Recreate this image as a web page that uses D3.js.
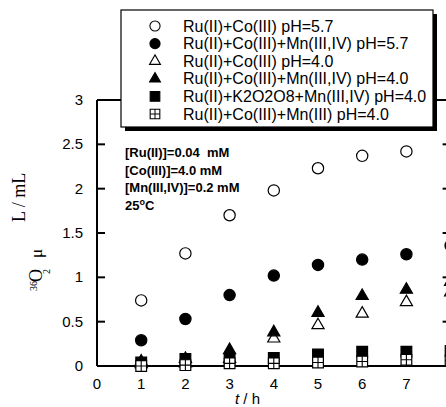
<!DOCTYPE html>
<html>
<head>
<meta charset="utf-8">
<script src="https://cdn.jsdelivr.net/npm/d3@7"></script>
<style>
  body { margin: 0; background: #fff; }
  svg { display: block; }
  text { white-space: pre; }
</style>
</head>
<body>
<div id="chart"></div>
<script>
(function () {
  'use strict';

  var hours = [1, 2, 3, 4, 5, 6, 7, 8];
  var coPh57 = [0.74, 1.27, 1.70, 1.98, 2.23, 2.37, 2.42];
  var coMnPh57 = [0.29, 0.53, 0.80, 1.02, 1.14, 1.20, 1.26, 1.36];
  var coPh40 = [0.02, 0.03, 0.08, 0.31, 0.46, 0.59, 0.72, 0.83];
  var coMnPh40 = [0.05, 0.08, 0.18, 0.38, 0.60, 0.79, 0.86, 0.95];
  var persulfMn = [0.04, 0.08, 0.08, 0.09, 0.13, 0.16, 0.16, 0.17];
  var coMn3 = [0.00, 0.01, 0.03, 0.03, 0.04, 0.05, 0.07, 0.06];

  var xTicks = [0, 1, 2, 3, 4, 5, 6, 7];
  var yTicks = [0, 0.5, 1, 1.5, 2, 2.5, 3];
  var notes = ['[Ru(II)]=0.04  mM', '[Co(III)]=4.0 mM', '[Mn(III,IV)]=0.2 mM', '25'];

  var series = [
    { label: 'Ru(II)+Co(III) pH=5.7', values: coPh57, shape: 'circle', fill: '#fff' },
    { label: 'Ru(II)+Co(III)+Mn(III,IV) pH=5.7', values: coMnPh57, shape: 'circle', fill: '#000' },
    { label: 'Ru(II)+Co(III) pH=4.0', values: coPh40, shape: 'triangle', fill: '#fff' },
    { label: 'Ru(II)+Co(III)+Mn(III,IV) pH=4.0', values: coMnPh40, shape: 'triangle', fill: '#000' },
    { label: 'Ru(II)+K2O2O8+Mn(III,IV) pH=4.0', values: persulfMn, shape: 'square', fill: '#000' },
    { label: 'Ru(II)+Co(III)+Mn(III) pH=4.0', values: coMn3, shape: 'crossed', fill: '#fff' }
  ];

  var W = 446, H = 407;
  var sans = '"Liberation Sans", Arial, sans-serif';
  var serif = '"Liberation Serif", "Times New Roman", serif';

  var x = d3.scaleLinear().domain([0, 8]).range([97, 450.6]);
  var y = d3.scaleLinear().domain([0, 3]).range([366, 100]);

  var svg = d3.select('#chart').append('svg')
      .attr('width', W)
      .attr('height', H);

  function symbolPath(shape) {
    if (shape === 'circle') return d3.symbol(d3.symbolCircle, 100)();
    if (shape === 'triangle') return d3.symbol(d3.symbolTriangle, 64)();
    return d3.symbol(d3.symbolSquare, 115)();
  }

  function drawMarker(g, shape, fill) {
    g.append('path')
      .attr('d', symbolPath(shape))
      .attr('fill', fill)
      .attr('stroke', '#000')
      .attr('stroke-width', 1.2);
    if (shape === 'crossed') {
      g.append('path')
        .attr('d', 'M-5.4,0H5.4M0,-5.4V5.4')
        .attr('stroke', '#000')
        .attr('stroke-width', 1.1);
    }
  }

  // frame
  var frame = svg.append('g').attr('stroke', '#000').attr('stroke-width', 2).attr('fill', 'none');
  frame.append('line').attr('x1', x(0)).attr('x2', x(8)).attr('y1', y(0)).attr('y2', y(0));
  frame.append('line').attr('x1', x(0)).attr('x2', x(8)).attr('y1', y(3)).attr('y2', y(3));
  frame.append('line').attr('x1', x(0)).attr('x2', x(0)).attr('y1', y(0)).attr('y2', y(3));
  frame.append('line').attr('x1', x(8)).attr('x2', x(8)).attr('y1', y(0)).attr('y2', y(3));

  // y ticks inward on both sides
  frame.selectAll('.yt').data(yTicks.slice(1, -1)).enter()
    .append('line')
    .attr('x1', x(0)).attr('x2', x(0) + 8)
    .attr('y1', function (d) { return y(d); })
    .attr('y2', function (d) { return y(d); });
  frame.selectAll('.yt2').data(yTicks.slice(1, -1)).enter()
    .append('line')
    .attr('x1', x(8)).attr('x2', x(8) - 8)
    .attr('y1', function (d) { return y(d); })
    .attr('y2', function (d) { return y(d); });

  svg.append('g').selectAll('text').data(yTicks).enter()
    .append('text')
    .attr('x', 83)
    .attr('y', function (d) { return y(d) + 5; })
    .attr('text-anchor', 'end')
    .attr('font-family', sans)
    .attr('font-size', 15)
    .text(function (d) { return d; });

  svg.append('g').selectAll('text').data(xTicks).enter()
    .append('text')
    .attr('x', function (d) { return x(d); })
    .attr('y', 389)
    .attr('text-anchor', 'middle')
    .attr('font-family', sans)
    .attr('font-size', 15)
    .text(function (d) { return d; });

  // axis titles
  var xt = svg.append('text')
      .attr('x', 235)
      .attr('y', 404)
      .attr('font-family', sans)
      .attr('font-size', 15);
  xt.append('tspan').attr('font-style', 'italic').text('t');
  xt.append('tspan').text(' / h');

  function rotText(px, py, size, str) {
    svg.append('text')
      .attr('transform', 'translate(' + px + ',' + py + ') rotate(-90)')
      .attr('font-family', serif)
      .attr('font-size', size)
      .text(str);
  }
  rotText(25, 222, 18, 'L / mL');
  rotText(42, 258, 17, 'μ');
  rotText(42, 282, 18, 'O');
  rotText(50, 274, 10, '2');
  rotText(37, 291, 10, '36');

  // data points
  series.forEach(function (s) {
    var g = svg.append('g');
    s.values.forEach(function (v, i) {
      var m = g.append('g')
        .attr('transform', 'translate(' + x(hours[i]) + ',' + y(v) + ')');
      drawMarker(m, s.shape, s.fill);
    });
  });

  // notes
  var nt = svg.append('g')
      .attr('font-family', sans)
      .attr('font-size', 13)
      .attr('font-weight', 'bold');
  notes.forEach(function (n, i) {
    var t = nt.append('text').attr('x', 125).attr('y', 157 + i * 17.7);
    if (i === 3) {
      t.append('tspan').text(n);
      t.append('tspan').attr('font-size', 9).attr('dy', -5).text('o');
      t.append('tspan').attr('dy', 5).text('C');
    } else {
      t.text(n);
    }
  });

  // legend
  var lg = svg.append('g');
  lg.append('rect').attr('x', 125).attr('y', 14).attr('width', 312).attr('height', 117).attr('fill', '#000');
  lg.append('rect').attr('x', 121).attr('y', 10).attr('width', 312).attr('height', 117)
    .attr('fill', '#fff').attr('stroke', '#000').attr('stroke-width', 1.2);
  series.forEach(function (s, i) {
    var cy = 26 + i * 17.6;
    var m = lg.append('g').attr('transform', 'translate(155,' + cy + ') scale(0.9)');
    drawMarker(m, s.shape, s.fill);
    lg.append('text')
      .attr('x', 183)
      .attr('y', cy + 5.5)
      .attr('font-family', sans)
      .attr('font-size', 16)
      .text(s.label);
  });
}());
</script>
</body>
</html>
